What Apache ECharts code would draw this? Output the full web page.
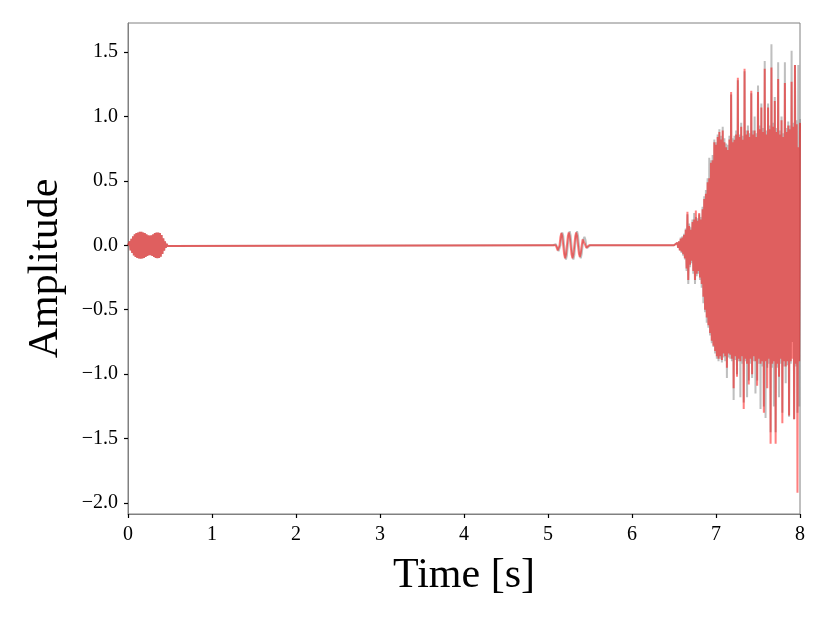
<!DOCTYPE html>
<html>
<head>
<meta charset="utf-8">
<script src="https://cdn.jsdelivr.net/npm/echarts@6/dist/echarts.min.js"></script>
<style>
  html, body { margin: 0; padding: 0; background: #fff; }
  #chart { width: 830px; height: 623px; }
</style>
</head>
<body>
<div id="chart"></div>
<script>
// tick labels
const xTicks = [0, 1, 2, 3, 4, 5, 6, 7, 8];
const yTicks = [-2.0, -1.5, -1.0, -0.5, 0.0, 0.5, 1.0, 1.5];

// burst 1 (0.00 s - 0.48 s): crests on even samples, troughs on odd samples, 0.01 s apart
const burst1Start = 0.0;
const burst1Step = 0.01;
const burst1Upper = [0.0, 0.03, 0.05, 0.07, 0.085, 0.095, 0.10, 0.105, 0.105, 0.10, 0.095, 0.085, 0.078,
    0.075, 0.078, 0.085, 0.095, 0.10, 0.10, 0.095, 0.08, 0.055, 0.03, 0.012, 0.0];
const burst1Lower = [-0.015, -0.04, -0.06, -0.078, -0.09, -0.098, -0.103, -0.105, -0.103, -0.098, -0.09,
    -0.082, -0.076, -0.076, -0.082, -0.09, -0.098, -0.10, -0.098, -0.088, -0.068, -0.042, -0.02, -0.005];

// burst 2 (around 5.1 s - 5.5 s), one sample every 0.011 s
const burst2Start = 5.06;
const burst2Step = 0.011;
const burst2Red = [0.0, 0.01, 0.007, 0.0, -0.02, -0.04, -0.035, 0.0, 0.065, 0.095, 0.068, 0.0, -0.07, -0.10,
    -0.07, 0.0, 0.07, 0.10, 0.07, 0.0, -0.07, -0.10, -0.07, 0.0, 0.07, 0.10, 0.07, 0.0, -0.065, -0.09, -0.06,
    0.0, 0.045, 0.06, 0.04, 0.0, -0.02, -0.025, -0.015, 0.0];
const burst2Gray = [0.0, 0.0, 0.01, 0.008, 0.0, -0.022, -0.045, -0.04, 0.0, 0.07, 0.10, 0.075, 0.0, -0.077,
    -0.11, -0.077, 0.0, 0.077, 0.11, 0.077, 0.0, -0.077, -0.11, -0.077, 0.0, 0.077, 0.11, 0.077, 0.0, -0.07,
    -0.10, -0.066, 0.0, 0.05, 0.066, 0.044, 0.0, -0.022, -0.027, -0.016, 0.0];

// burst 3 (6.54 s - 8.00 s): crests on even samples, troughs on odd samples, 0.01 s apart
const burst3Start = 6.54;
const burst3Step = 0.01;
const burst3RedUpper = [
    0.02, 0.03, 0.05, 0.06, 0.08, 0.12, 0.26, 0.15, 0.12, 0.18, 0.20, 0.27, 0.19, 0.25, 0.20, 0.28,
    0.36, 0.40, 0.49, 0.52, 0.64, 0.66, 0.80, 0.78, 0.84, 0.88, 0.82, 0.89, 0.80, 0.76, 0.74, 0.82,
    1.19, 0.80, 0.82, 0.86, 1.30, 0.84, 0.92, 0.82, 1.37, 0.86, 0.89, 0.84, 1.20, 0.86, 0.89, 0.84,
    1.19, 0.90, 1.07, 0.88, 1.37, 0.86, 1.07, 0.90, 1.38, 0.92, 1.12, 0.88, 1.29, 0.86, 0.97, 0.84,
    1.26, 0.88, 0.93, 0.90, 1.27, 0.92, 1.40, 0.94, 0.76, 0.95];
const burst3RedLower = [
    -0.02, -0.04, -0.05, -0.07, -0.10, -0.18, -0.27, -0.15, -0.12, -0.20, -0.27, -0.22, -0.20, -0.25, -0.30,
    -0.40, -0.50, -0.56, -0.62, -0.68, -0.74, -0.78, -0.82, -0.86, -0.88, -0.86, -0.89, -0.84, -0.86, -0.95,
    -0.84, -0.85, -0.88, -1.11, -0.86, -1.02, -0.88, -0.90, -0.86, -1.27, -0.88, -0.92, -1.08, -0.88, -1.00,
    -0.86, -0.90, -1.09, -0.88, -0.92, -0.90, -1.30, -0.90, -1.11, -0.88, -1.54, -0.92, -0.90, -1.54, -0.92,
    -1.02, -0.88, -1.38, -0.90, -0.94, -0.90, -1.32, -0.90, -0.88, -1.35, -0.92, -1.92, -0.90];
const burst3GrayUpper = [
    0.02, 0.03, 0.06, 0.07, 0.09, 0.13, 0.24, 0.17, 0.14, 0.20, 0.25, 0.22, 0.21, 0.24, 0.22, 0.30,
    0.38, 0.43, 0.52, 0.68, 0.66, 0.70, 0.82, 0.80, 0.86, 0.90, 0.85, 0.92, 0.83, 0.79, 0.78, 0.85,
    1.17, 0.83, 0.85, 0.89, 1.28, 0.86, 0.95, 0.85, 1.35, 0.89, 0.93, 0.87, 1.18, 0.89, 1.00, 0.87,
    1.24, 0.93, 1.10, 0.91, 1.43, 0.89, 1.10, 0.93, 1.56, 0.95, 1.15, 0.91, 1.42, 0.89, 1.00, 0.87,
    1.42, 0.91, 0.96, 0.93, 1.51, 0.95, 1.40, 0.97, 1.40, 0.98];
const burst3GrayLower = [
    -0.02, -0.04, -0.06, -0.08, -0.11, -0.20, -0.30, -0.17, -0.14, -0.22, -0.30, -0.24, -0.22, -0.27, -0.33,
    -0.45, -0.52, -0.60, -0.64, -0.70, -0.76, -0.79, -0.84, -0.88, -0.90, -0.88, -0.91, -0.87, -0.90, -1.03,
    -0.87, -0.88, -0.90, -1.20, -0.89, -1.00, -0.90, -1.18, -0.92, -1.22, -0.90, -1.18, -1.05, -0.92, -1.03,
    -0.90, -1.15, -1.05, -0.92, -1.27, -0.94, -1.25, -1.34, -0.95, -0.92, -1.45, -0.95, -1.25, -1.45, -0.95,
    -1.18, -0.92, -1.30, -0.94, -1.07, -0.93, -1.33, -0.92, -0.75, -1.35, -0.94, -1.30, -1.25];

// crest/trough lists -> one sample list (crest, trough, crest, ...)
function interleave(upper, lower) {
    let out = [];
    for (let i = 0; i < upper.length; i++) {
        out.push(upper[i]);
        if (i < lower.length) out.push(lower[i]);
    }
    return out;
}

function toPoints(start, step, values) {
    return values.map((v, i) => [+(start + i * step).toFixed(3), v]);
}

function buildSeries(b1, b2, b3) {
    return []
        .concat(toPoints(burst1Start, burst1Step, b1))
        .concat([[5.0, 0]])
        .concat(toPoints(burst2Start, burst2Step, b2))
        .concat([[6.5, 0]])
        .concat(toPoints(burst3Start, burst3Step, b3));
}

const burst1 = interleave(burst1Upper, burst1Lower);
const grayData = buildSeries(burst1, burst2Gray, interleave(burst3GrayUpper, burst3GrayLower));
const redData = buildSeries(burst1, burst2Red, interleave(burst3RedUpper, burst3RedLower));

const font = "'Liberation Serif', 'DejaVu Serif', serif";

let chart = echarts.init(document.getElementById('chart'));
chart.setOption({
    animation: false,
    backgroundColor: '#fff',
    grid: {
        left: 128, right: 30, top: 23, bottom: 109,
        show: true, borderColor: '#808080', borderWidth: 1
    },
    xAxis: {
        type: 'value',
        min: 0, max: 8, interval: 1,
        name: 'Time [s]',
        nameLocation: 'middle',
        nameGap: 41,
        nameTextStyle: {fontFamily: font, fontSize: 42, color: '#000'},
        axisLine: {show: true, onZero: false, lineStyle: {color: '#808080', width: 1}},
        axisTick: {show: true, length: 4, lineStyle: {color: '#000', width: 1.2}},
        axisLabel: {
            fontFamily: font, fontSize: 20, color: '#000', margin: 11,
            customValues: xTicks
        },
        splitLine: {show: false}
    },
    yAxis: {
        type: 'value',
        min: -2.085, max: 1.725,
        name: 'Amplitude',
        nameLocation: 'middle',
        nameGap: 61,
        nameRotate: 90,
        nameTextStyle: {fontFamily: font, fontSize: 42, color: '#000'},
        axisLine: {show: true, onZero: false, lineStyle: {color: '#808080', width: 1}},
        axisTick: {show: true, length: 4, lineStyle: {color: '#000', width: 1.2}, customValues: yTicks},
        axisLabel: {
            fontFamily: font, fontSize: 20, color: '#000', margin: 10,
            customValues: yTicks,
            formatter: (v) => v.toFixed(1).replace('-', '\u2212')
        },
        splitLine: {show: false}
    },
    series: [
        {
            type: 'line',
            data: grayData,
            showSymbol: false,
            sampling: null,
            lineStyle: {color: 'rgba(128,128,128,0.5)', width: 2}
        },
        {
            type: 'line',
            data: redData,
            showSymbol: false,
            sampling: null,
            lineStyle: {color: 'rgba(255,0,0,0.5)', width: 2}
        }
    ]
});
</script>
</body>
</html>
